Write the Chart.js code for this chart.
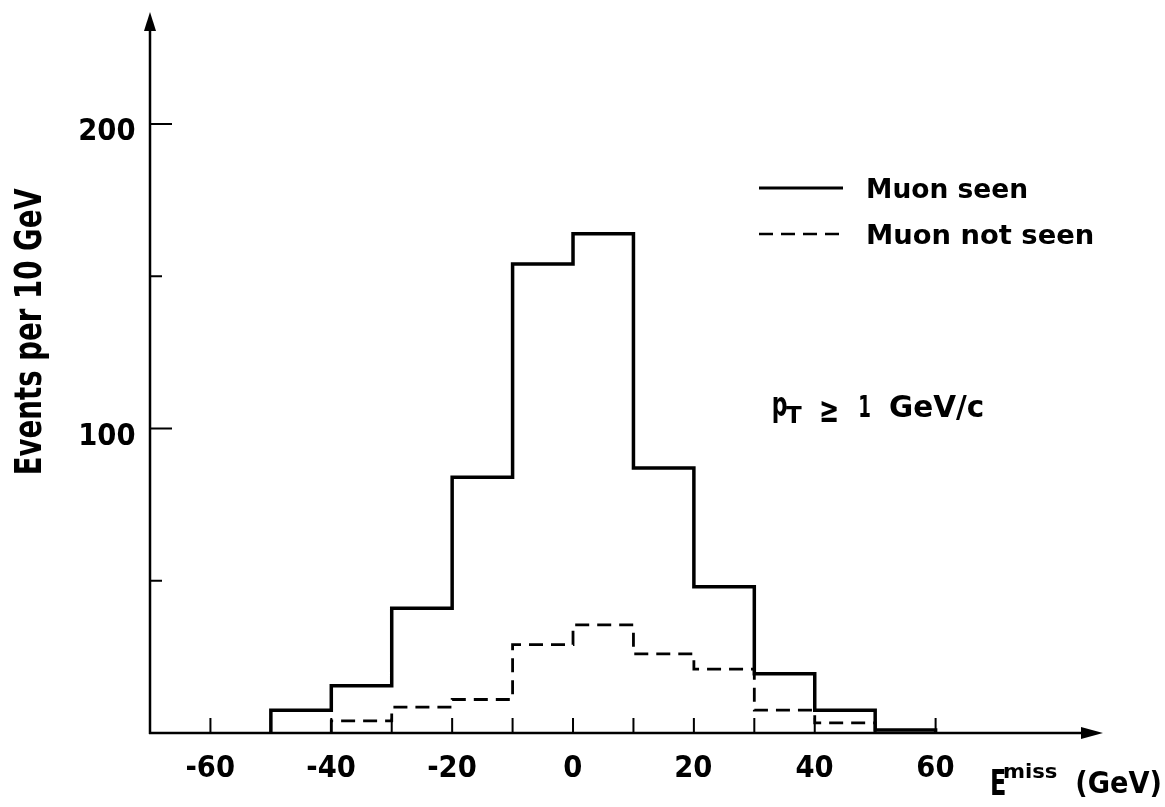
<!DOCTYPE html>
<html>
<head>
<meta charset="utf-8">
<title>Missing energy</title>
<script src="https://cdn.jsdelivr.net/npm/chart.js@4.4.0/dist/chart.umd.min.js"></script>
<style>
  html, body { margin: 0; padding: 0; background: #fff; }
  #wrap { width: 1165px; height: 807px; position: relative; }
</style>
</head>
<body>
<div id="wrap"><canvas id="missChart"></canvas></div>
<script>
// histogram bins (lower edge, GeV) and counts per 10 GeV
const binLow = [-50, -40, -30, -20, -10, 0, 10, 20, 30, 40, 50];
const binWidth = 10;
const muonSeen    = [7.5, 15.5, 41, 84, 154, 164, 87, 48, 19.5, 7.5, 1];
const muonNotSeen = [0, 4, 8.5, 11, 29, 35.5, 26, 21, 7.5, 3.3, 0];

// axis ticks
const xTickValues  = [-60, -50, -40, -30, -20, -10, 0, 10, 20, 30, 40, 50, 60];
const xLabelValues = [-60, -40, -20, 0, 20, 40, 60];
const yTickValues  = [50, 100, 150, 200];
const yLabelValues = [100, 200];

const FONT = '"DejaVu Sans", "Liberation Sans", sans-serif';

// turn bin counts into step points, dropping empty bins at both ends
function histPoints(low, counts) {
    let a = 0, b = counts.length - 1;
    while (a < b && counts[a] === 0) a++;
    while (b > a && counts[b] === 0) b--;
    const pts = [{ x: low[a], y: 0 }];
    for (let i = a; i <= b; i++) pts.push({ x: low[i], y: counts[i] });
    pts.push({ x: low[b] + binWidth, y: 0 });
    return pts;
}

function inkWidth(ctx, str) {
    const m = ctx.measureText(str);
    return { w: m.actualBoundingBoxLeft + m.actualBoundingBoxRight, left: m.actualBoundingBoxLeft };
}

// draws text with its ink starting at x, squeezed/stretched horizontally by sx
function drawScaled(ctx, str, x, y, sx) {
    const m = inkWidth(ctx, str);
    ctx.save();
    ctx.translate(x, y);
    ctx.scale(sx, 1);
    ctx.textAlign = 'left';
    ctx.textBaseline = 'alphabetic';
    ctx.fillText(str, m.left, 0);
    ctx.restore();
}

// draws text so that its ink spans exactly [x, x + width]
function fitText(ctx, str, x, y, width) {
    const m = inkWidth(ctx, str);
    drawScaled(ctx, str, x, y, width / m.w);
}

const axesPlugin = {
    id: 'plotAxes',
    afterDatasetsDraw(chart) {
        const ctx = chart.ctx;
        const xs = chart.scales.x, ys = chart.scales.y;
        const x0 = xs.getPixelForValue(xs.min);
        const y0 = ys.getPixelForValue(0);
        const yTop = ys.getPixelForValue(ys.max);
        const xEnd = xs.getPixelForValue(xs.max);

        ctx.save();
        ctx.strokeStyle = '#000';
        ctx.fillStyle = '#000';
        ctx.lineCap = 'butt';

        // axis lines
        ctx.lineWidth = 2.5;
        ctx.beginPath();
        ctx.moveTo(x0, y0 + 1);
        ctx.lineTo(x0, yTop + 16);
        ctx.moveTo(x0 - 1, y0);
        ctx.lineTo(xEnd - 18, y0);
        ctx.stroke();

        // arrow heads
        ctx.beginPath();
        ctx.moveTo(x0, yTop);
        ctx.lineTo(x0 - 6, yTop + 19);
        ctx.lineTo(x0 + 6, yTop + 19);
        ctx.closePath();
        ctx.fill();
        ctx.beginPath();
        ctx.moveTo(xEnd, y0);
        ctx.lineTo(xEnd - 22, y0 - 6);
        ctx.lineTo(xEnd - 22, y0 + 6);
        ctx.closePath();
        ctx.fill();

        // tick marks point into the plot
        ctx.lineWidth = 2;
        ctx.beginPath();
        xTickValues.forEach(v => {
            const px = xs.getPixelForValue(v);
            ctx.moveTo(px, y0);
            ctx.lineTo(px, y0 - 15);
        });
        yTickValues.forEach(v => {
            const py = ys.getPixelForValue(v);
            ctx.moveTo(x0, py);
            ctx.lineTo(x0 + (yLabelValues.includes(v) ? 22 : 12), py);
        });
        ctx.stroke();

        // tick labels
        ctx.font = 'bold 31px ' + FONT;
        const sx = 55 / inkWidth(ctx, '200').w;
        yLabelValues.forEach(v => {
            const s = String(v);
            const w = inkWidth(ctx, s).w * sx;
            drawScaled(ctx, s, x0 - 15 - w, ys.getPixelForValue(v) + 16, sx);
        });
        xLabelValues.forEach(v => {
            const s = String(v);
            const w = inkWidth(ctx, s).w * sx;
            drawScaled(ctx, s, xs.getPixelForValue(v) - w / 2, y0 + 44, sx);
        });

        // y title, reading upwards
        ctx.save();
        ctx.translate(41, 473);
        ctx.rotate(-Math.PI / 2);
        ctx.font = 'bold 37px ' + FONT;
        fitText(ctx, 'Events per 10 GeV', 0, 0, 285);
        ctx.restore();

        // x title: E with superscript "miss"
        ctx.font = 'bold 35px ' + FONT;
        fitText(ctx, 'E', 992, 795, 13);
        ctx.font = 'bold 19px ' + FONT;
        fitText(ctx, 'miss', 1004, 778, 53);
        ctx.font = 'bold 31px ' + FONT;
        fitText(ctx, '(GeV)', 1077, 793, 83);

        // legend
        ctx.lineWidth = 3;
        ctx.beginPath();
        ctx.moveTo(759, 188);
        ctx.lineTo(843, 188);
        ctx.stroke();
        ctx.lineWidth = 2.5;
        ctx.setLineDash([14, 8]);
        ctx.beginPath();
        ctx.moveTo(759, 234);
        ctx.lineTo(842, 234);
        ctx.stroke();
        ctx.setLineDash([]);
        ctx.font = 'bold 27px ' + FONT;
        fitText(ctx, 'Muon seen', 868, 198, 159);
        fitText(ctx, 'Muon not seen', 868, 244, 225);

        // transverse momentum cut
        ctx.font = 'bold 33px ' + FONT;
        fitText(ctx, 'p', 773, 416, 14);
        ctx.font = 'bold 23px ' + FONT;
        fitText(ctx, 'T', 786, 423, 16);
        ctx.font = 'bold 36px ' + FONT;
        fitText(ctx, '\u2265', 821, 422, 16);
        ctx.font = 'bold 31px ' + FONT;
        fitText(ctx, '1', 860, 417, 10);
        fitText(ctx, 'GeV/c', 890, 417, 93);

        ctx.restore();
    }
};

new Chart(document.getElementById('missChart'), {
    type: 'line',
    data: {
        datasets: [
            {
                label: 'Muon seen',
                data: histPoints(binLow, muonSeen),
                borderColor: '#000',
                borderWidth: 3.5,
                stepped: 'before',
                pointRadius: 0,
                fill: false,
                borderJoinStyle: 'miter'
            },
            {
                label: 'Muon not seen',
                data: histPoints(binLow, muonNotSeen),
                borderColor: '#000',
                borderWidth: 2.8,
                borderDash: [14, 8],
                stepped: 'before',
                pointRadius: 0,
                fill: false,
                borderJoinStyle: 'miter'
            }
        ]
    },
    options: {
        responsive: true,
        maintainAspectRatio: false,
        animation: false,
        devicePixelRatio: 1,
        layout: { padding: { left: 150, right: 62, top: 12, bottom: 74 } },
        plugins: {
            legend: { display: false },
            tooltip: { enabled: false }
        },
        scales: {
            x: { type: 'linear', min: -70, max: 87.7, display: false },
            y: { type: 'linear', min: 0, max: 236.8, display: false }
        }
    },
    plugins: [axesPlugin]
});
</script>
</body>
</html>
